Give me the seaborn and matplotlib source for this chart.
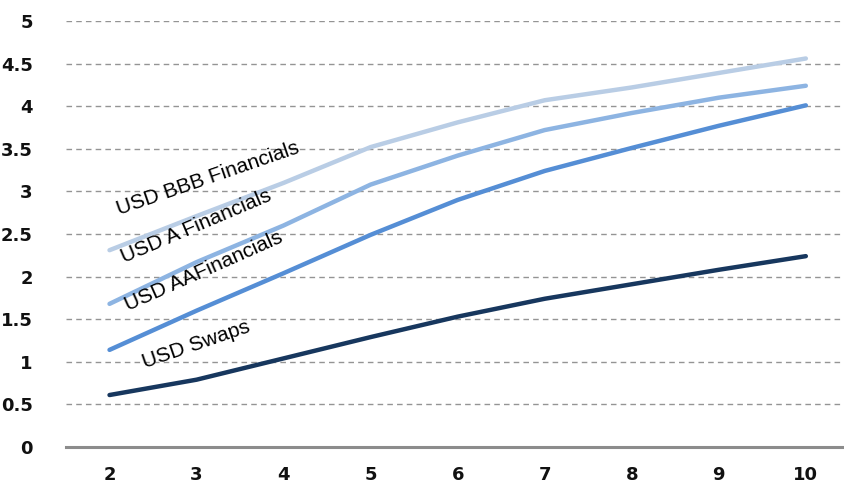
import matplotlib
matplotlib.use("Agg")
import matplotlib.pyplot as plt
import seaborn as sns
import pandas as pd

tenors = [2, 3, 4, 5, 6, 7, 8, 9, 10]
bbb_fin = [2.31, 2.71, 3.10, 3.52, 3.81, 4.07, 4.22, 4.39, 4.56]
a_fin = [1.68, 2.17, 2.60, 3.08, 3.42, 3.72, 3.92, 4.10, 4.24]
aa_fin = [1.14, 1.60, 2.04, 2.49, 2.90, 3.24, 3.51, 3.77, 4.01]
swaps = [0.61, 0.79, 1.04, 1.29, 1.53, 1.74, 1.91, 2.08, 2.24]
series_names = ["USD BBB Financials", "USD A Financials", "USD AAFinancials", "USD Swaps"]
y_ticks = [0, 0.5, 1, 1.5, 2, 2.5, 3, 3.5, 4, 4.5, 5]
y_tick_labels = ["0", "0.5", "1", "1.5", "2", "2.5", "3", "3.5", "4", "4.5", "5"]

colors = ["#B9CDE5", "#8DB4E2", "#558ED5", "#17375E"]

rows = []
for name, vals in zip(series_names, [bbb_fin, a_fin, aa_fin, swaps]):
    for t, v in zip(tenors, vals):
        rows.append({"tenor": t, "value": v, "series": name})
df = pd.DataFrame(rows)

sns.set_style("white")
fig = plt.figure(figsize=(8.45, 4.96), dpi=100)
ax = fig.add_axes([66/845, 49/496, 1 - 66/845, (447 - 21)/496])

sns.lineplot(data=df, x="tenor", y="value", hue="series", hue_order=series_names,
             palette=colors, linewidth=3.2, legend=False, ax=ax, solid_capstyle="round")

ax.set_xlim(1.5, 10.45)
ax.set_ylim(0, 5)
ax.set_yticks(y_ticks)
ax.set_yticklabels(y_tick_labels)
ax.set_xticks(tenors)
ax.set_xticklabels([str(t) for t in tenors])
ax.set_xlabel("")
ax.set_ylabel("")
ax.yaxis.grid(True, linestyle=(0, (4, 3)), color="#949494", linewidth=1)
ax.xaxis.grid(False)
ax.set_axisbelow(True)
for s in ["top", "right", "left"]:
    ax.spines[s].set_visible(False)
ax.spines["bottom"].set_color("#8C8C8C")
ax.spines["bottom"].set_linewidth(2.2)
ax.tick_params(axis="y", length=0, pad=24, labelsize=13)
ax.tick_params(axis="x", length=0, pad=14, labelsize=13)
for lbl in ax.get_xticklabels() + ax.get_yticklabels():
    lbl.set_fontweight("bold")
    lbl.set_color("#111111")

label_pos = [(2.11, 2.72, 19), (2.17, 2.16, 23), (2.21, 1.60, 24), (2.40, 0.93, 19)]
for name, (x, y, r) in zip(series_names, label_pos):
    ax.text(x, y, name, rotation=r, rotation_mode="anchor", ha="left", va="baseline",
            fontsize=15, family="Liberation Sans", color="black")

fig.savefig("out.png", dpi=100)
